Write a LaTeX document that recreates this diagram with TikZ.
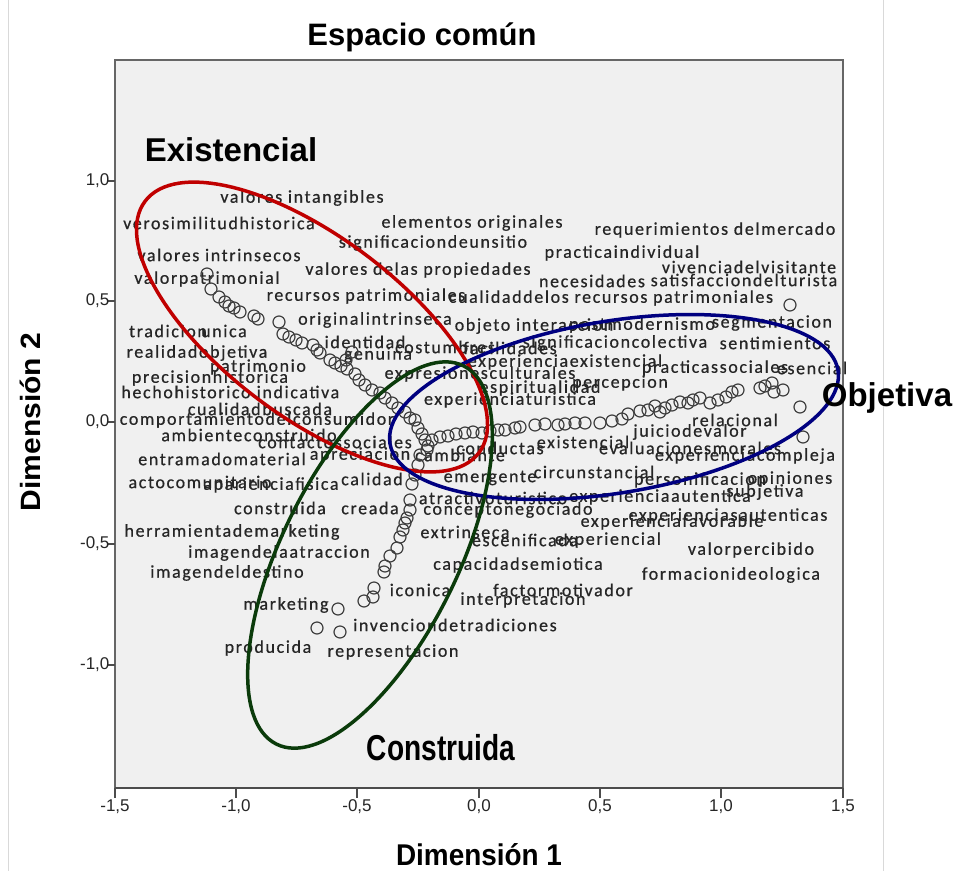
\documentclass[tikz,border=0pt]{standalone}
\usepackage{fontspec}
\setmainfont{Liberation Sans}
\newfontfamily\wordfont[LetterSpace=9, FakeBold=0.6]{Carlito}
\definecolor{plotbg}{HTML}{F0F0F0}
\definecolor{exired}{HTML}{C00000}
\definecolor{objblue}{HTML}{000080}
\definecolor{congreen}{HTML}{0B3B0B}
\tikzset{
  word/.style={inner sep=0pt, text=black!85, font=\wordfont\fontsize{18}{18}\selectfont},
  obs/.style={draw=black!75, line width=1.2pt},
  grouplabel/.style={inner sep=0pt, font=\bfseries\fontsize{33}{33}\selectfont},
  ticklabel/.style={inner sep=0pt, text=black!85, font=\fontsize{17}{17}\selectfont},
  axtitle/.style={inner sep=0pt, font=\bfseries\fontsize{30}{30}\selectfont},
  ring/.style={line width=3.5pt}
}
\begin{document}
\begin{tikzpicture}[x=1pt, y=-1pt]
 \useasboundingbox (0,0) rectangle (954,871);
 \draw[black!15] (8,0) -- (8,871) (883,0) -- (883,871);
 % plot area
 \filldraw[fill=plotbg, draw=black!60, line width=1.5pt] (115,60) rectangle (843,788);
 \draw[black!70, line width=2.5pt] (115,788) -- (843,788);
 \foreach \v/\lab [count=\i] in {181/{1,0},301/{0,5},422/{0,0},544/{-0,5},665/{-1,0}}
   \draw[black!70, line width=1.2pt] (107,\v) -- (115,\v) node[ticklabel, anchor=east, xshift=-5pt] (ylab\i) {\lab};
 \foreach \u/\lab [count=\i] in {115/{-1,5},236/{-1,0},357/{-0,5},479/{0,0},600/{0,5},721/{1,0},843/{1,5}}
   \draw[black!70, line width=1.2pt] (\u,788) -- (\u,798) node[ticklabel, anchor=north, yshift=-1pt] (xlab\i) {\lab};
 \node[axtitle, font=\bfseries\fontsize{31}{31}\selectfont] (title) at (422,37) {Espacio común};
 \node[axtitle, xscale=0.93] (dim1) at (479,855) {Dimensión 1};
 \node[axtitle, xscale=0.93, rotate=90] (dim2) at (30,422) {Dimensión 2};

 % words
 \foreach \x/\y/\t [count=\i] in {
   302/198/valores intangibles, 219/223/verosimilitudhistorica, 472/223/elementos originales,
   715/230/requerimientos delmercado, 433/243/significaciondeunsitio, 622/253/practicaindividual,
   219/255/valores intrinsecos, 418/270/valores delas propiedades, 749/267/vivenciadelvisitante,
   207/279/valorpatrimonial, 592/281/necesidades, 744/280/satisfacciondelturista,
   366/296/recursos patrimoniales, 611/298/cualidaddelos recursos patrimoniales,
   375/320/originalintrinseca, 534/326/objeto interaccion, 642/325/postmodernismo,
   772/323/segmentacion, 168/331/tradicion, 224/331/unica, 365/342/identidad,
   445/347/costumbres, 510/348/facilidades, 615/343/significacioncolectiva,
   775/343/sentimientos, 197/353/realidadobjetiva, 378/355/genuina,
   565/362/experienciaexistencial, 258/367/patrimonio, 715/368/practicassociales,
   812/368/esencial, 210/378/precisionhistorica, 480/374/expresionesculturales,
   186/392/hechohistorico, 298/392/indicativa, 540/388/espiritualidad,
   620/383/percepcion, 260/409/cualidadbuscada, 510/400/experienciaturistica,
   257/420/comportamientodelconsumidor, 249/435/ambienteconstruido,
   335/442/contactossociales, 222/459/entramadomaterial, 360/455/apreciacion,
   460/455/cambiante, 500/448/conductas, 583/442/existencial,
   690/448/evaluacionesmorales, 745/456/experienciacompleja, 690/432/juiciodevalor,
   735/420/relacional, 594/472/circunstancial, 490/478/emergente, 372/479/calidad,
   200/482/actocomunitario, 271/485/aparienciafisica, 700/480/personificacion,
   790/479/opiniones, 493/498/atractivoturistico, 660/497/experienciaautentica,
   765/492/subjetiva, 508/510/conceptonegociado, 280/508/construida, 370/508/creada,
   728/516/experienciasautenticas, 672/522/experienciafavorable,
   232/532/herramientademarketing, 465/532/extrinseca, 525/540/escenificada,
   608/540/experiencial, 279/553/imagendelaatraccion, 751/550/valorpercibido,
   518/565/capacidadsemiotica, 227/573/imagendeldestino, 731/575/formacionideologica,
   420/590/iconica, 563/590/factormotivador, 523/600/interpretacion, 286/605/marketing,
   455/625/invenciondetradiciones, 268/648/producida, 393/652/representacion}
   \node[word] (w\i) at (\x,\y) {\t};

 % points
 \foreach \p in {(207,274),(211,289),(219,297),(225,302),(229,306),(234,308),(240,312),
   (254,316),(258,319),(279,322),(283,334),(289,337),(296,340),(302,343),(313,345),
   (317,350),(320,353),(330,360),(335,363),(341,366),(347,369),(355,374),(359,380),
   (365,385),(372,390),(380,393),(385,398),(392,403),(398,408),(405,412),(410,418),
   (415,420),(418,428),(422,434),(425,440),(428,446),(432,440),(427,450),(352,352),(346,360),
   (420,455),(418,465),(415,475),(412,484),(410,500),(410,510),(407,518),(405,523),
   (403,530),(400,537),(397,548),(390,556),(385,566),(384,572),(374,588),(373,597),
   (364,601),(338,609),(340,632),(317,628),
   (440,437),(448,436),(456,434),(465,433),(473,432),(482,433),(490,431),(498,430),
   (505,430),(515,428),(520,427),(535,425),(545,424),(558,425),(565,424),(575,423),
   (585,423),(600,423),(612,421),(622,419),(628,414),(640,411),(648,410),(655,406),
   (660,412),(665,408),(672,405),(680,402),(688,403),(693,400),(700,398),(710,403),
   (718,400),(726,397),(732,392),(738,390),(760,388),(765,386),(772,383),(774,392),
   (783,390),(800,407),(803,437),(790,305)}
   \draw[obs] \p circle (6pt);

 % groups
 \draw[ring, exired, rotate around={-37:(312,327)}] (312,327) ellipse (209pt and 90pt);
 \draw[ring, objblue, rotate around={9.3:(614,407)}] (614,407) ellipse (227pt and 86pt);
 \draw[ring, congreen, rotate around={63.7:(370,555)}] (370,555) ellipse (211pt and 88pt);
 \node[grouplabel] (existencial) at (231,150) {Existencial};
 \node[grouplabel] (objetiva) at (887,398) {Objetiva};
 \node[grouplabel, font=\bfseries\fontsize{36}{36}\selectfont, xscale=0.78] (construida) at (441,748) {Construida};
\end{tikzpicture}
\end{document}
